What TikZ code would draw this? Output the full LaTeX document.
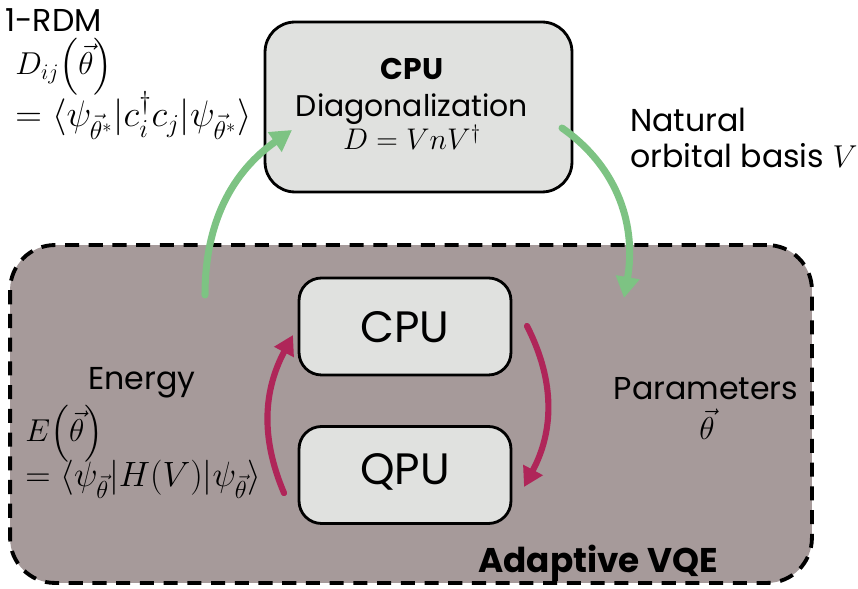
\RequirePackage{fix-cm}
\documentclass[tikz,border=0pt]{standalone}
\usepackage{amsmath,amssymb}
\usepackage{fontspec}
\setmainfont{Poppins}
\usetikzlibrary{arrows.meta,positioning}
\definecolor{boxgray}{HTML}{E0E1DF}
\definecolor{vqefill}{HTML}{A69A9A}
\definecolor{natgreen}{HTML}{7DC383}
\definecolor{loopred}{HTML}{AF2659}
\tikzset{
  procbox/.style={draw, line width=1.6pt, fill=boxgray, rounded corners=0.45cm, inner sep=0pt},
  vqebox/.style={draw, line width=2.2pt, line cap=butt, dash pattern=on 8pt off 5.5pt, fill=vqefill, rounded corners=0.9cm, inner sep=0pt},
  lbl/.style={font=\fontsize{18}{21}\selectfont, inner sep=0pt},
  biglbl/.style={font=\fontsize{25}{30}\selectfont, inner sep=0pt},
  greenarr/.style={natgreen, line width=4pt, -{Triangle[length=12pt,width=13pt]}},
  redarr/.style={loopred, line width=3.5pt, -{Triangle[length=11pt,width=12pt]}},
  every picture/.style={line cap=round, line join=round}
}

\begin{document}
\begin{tikzpicture}[x=0.02cm,y=0.02cm]
  \useasboundingbox (0,0) rectangle (858,588);

  % Adaptive VQE frame
  \node[vqebox, minimum width=16.04cm, minimum height=6.76cm] (vqe) at (411,174) {};
  \node[lbl, anchor=base, font=\fontsize{19.5}{22}\selectfont\bfseries] (vqetitle) at (598,16) {Adaptive VQE};

  % CPU / QPU loop
  \node[procbox, minimum width=4.24cm, minimum height=1.94cm] (cpu) at (405,261.5) {};
  \node[procbox, minimum width=4.24cm, minimum height=1.94cm] (qpu) at (405,113) {};
  \node[biglbl, anchor=base] (cputxt) at (405,245) {CPU};
  \node[biglbl, anchor=base] (qputxt) at (405,103) {QPU};

  % diagonalization box
  \node[procbox, rounded corners=0.6cm, minimum width=6.14cm, minimum height=3.4cm] (diag) at (418.5,481) {};
  \node[lbl, anchor=base, font=\fontsize{17}{20}\selectfont\bfseries] (diagcpu) at (412,508) {CPU};
  \node[lbl, anchor=base, font=\fontsize{17}{20}\selectfont] (diagtxt) at (412,471) {Diagonalization};
  \node[lbl, anchor=base, font=\fontsize{17}{20}\selectfont] (diageq) at (412,438) {$D = VnV^{\dagger}$};

  % 1-RDM
  \node[lbl, anchor=base west] (rdm) at (5,556) {1-RDM};
  \node[lbl, anchor=base west] (dij) at (15,513) {$D_{ij}\smash{\left(\vec{\theta}\right)}$};
  \node[lbl, anchor=base west, font=\fontsize{21}{24}\selectfont] (dexp) at (15,461)
    {$=\langle\psi_{\vec{\theta}^{*}}|c_i^{\dagger}c_j|\psi_{\vec{\theta}^{*}}\rangle$};

  % natural orbitals
  \node[lbl, anchor=base west] (nat) at (630,456) {Natural};
  \node[lbl, anchor=base west] (orb) at (630,420) {orbital basis $V$};

  % energy
  \node[lbl, anchor=base] (energy) at (142,198) {Energy};
  \node[lbl, anchor=base west] (etheta) at (25,146) {$E\smash{\left(\vec{\theta}\right)}$};
  \node[lbl, anchor=base west, font=\fontsize{20}{23}\selectfont] (eexp) at (25,101)
    {$=\langle\psi_{\vec{\theta}}|H(V)|\psi_{\vec{\theta}}\rangle$};

  % parameters
  \node[lbl, anchor=base] (params) at (706,188) {Parameters};
  \node[lbl, anchor=base] (ptheta) at (707,148) {$\vec{\theta}$};

  % arrow ends
  \coordinate (gls) at (205,293);
  \coordinate (gle) at (292,458);
  \coordinate (grs) at (562,460);
  \coordinate (gre) at (624,290);
  \coordinate (rls) at (284,95);
  \coordinate (rle) at (293,253);
  \coordinate (rrs) at (527,262);
  \coordinate (rre) at (524,101);

  \draw[greenarr] (gls) to[out=90, in=215] (gle);
  \draw[greenarr] (grs) to[out=-35, in=80] (gre);
  \draw[redarr] (rls) to[out=113, in=242] (rle);
  \draw[redarr] (rrs) to[out=-63, in=62] (rre);
\end{tikzpicture}
\end{document}
